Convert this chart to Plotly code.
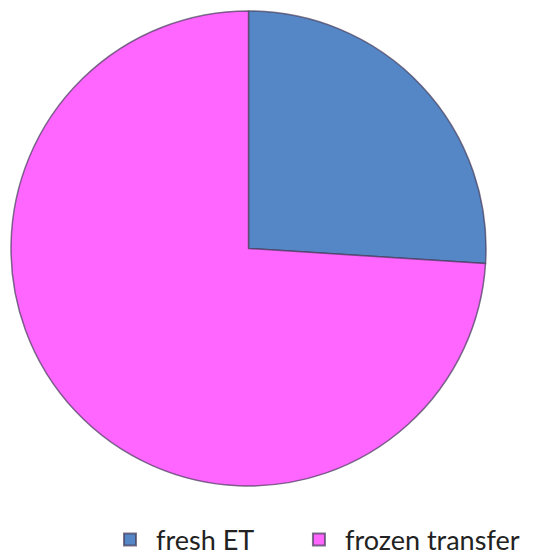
import plotly.graph_objects as go

labels = ["fresh ET", "frozen transfer"]
values = [26, 74]
colors = ["#5587C7", "#FF66FF"]

# non-breaking spaces after the first legend entry to reproduce the gap between entries
legend_pad = ["\u00a0" * 5, ""]
legend_labels = [l + p for l, p in zip(labels, legend_pad)]

# page body has an 8px default margin, so the figure is sized to fit inside it
W, H = 529, 548
fig = go.Figure(go.Pie(
    labels=legend_labels,
    values=values,
    customdata=labels,
    sort=False,
    direction="clockwise",
    rotation=0,
    textinfo="none",
    hovertemplate="%{customdata}: %{percent}<extra></extra>",
    marker=dict(colors=colors, line=dict(color="rgba(70,60,90,0.7)", width=1.5)),
    domain=dict(x=[2 / W, 479 / W], y=[1 - 478 / H, 1 - 3 / H]),
))

fig.update_layout(
    width=W, height=H,
    margin=dict(l=0, r=0, t=0, b=0, autoexpand=False),
    paper_bgcolor="white",
    plot_bgcolor="white",
    showlegend=True,
    legend=dict(
        orientation="h",
        x=96 / W, xanchor="left",
        y=1 - 532 / H, yanchor="middle",
        font=dict(family="Lato, Open Sans, sans-serif", size=27, color="#222222"),
        itemwidth=42,
        itemsizing="constant",
    ),
)

fig.write_html("out.html")
